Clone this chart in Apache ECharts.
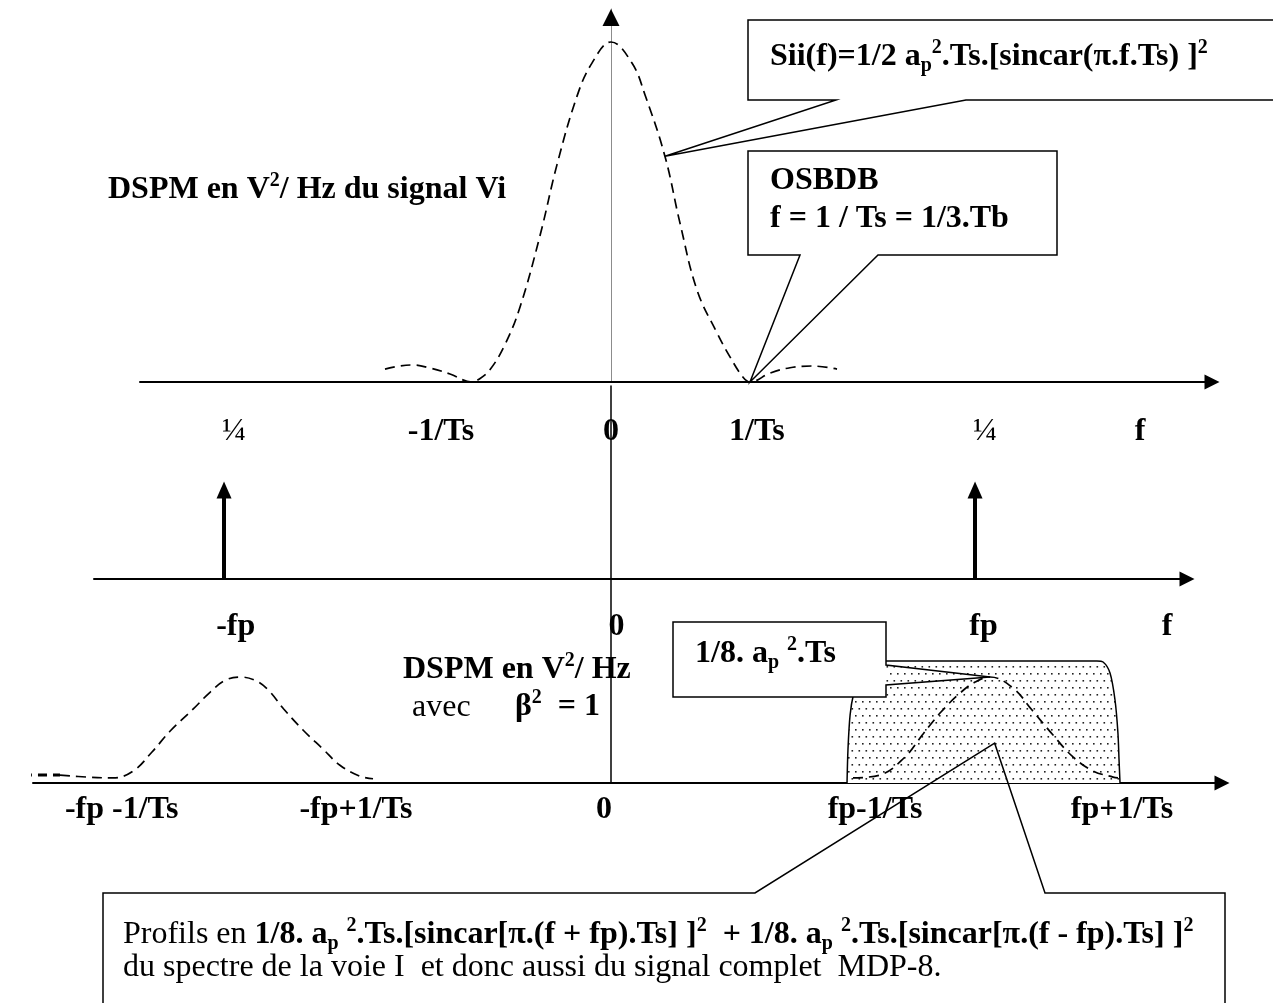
<!DOCTYPE html>
<html>
<head>
<meta charset="utf-8">
<script src="https://cdn.jsdelivr.net/npm/echarts@6/dist/echarts.min.js"></script>
<style>
  html, body { margin: 0; padding: 0; background: #fff; }
  #chart { width: 1273px; height: 1003px; }
</style>
</head>
<body>
<div id="chart"></div>
<script>
// Frequencies are in units of 1/Ts, spectral densities in units of ap^2.Ts.

// DSPM of Vi : 1/2 ap^2.Ts.[sincar(pi.f.Ts)]^2  (main lobe + first side lobes)
const viPsd = [
  [-1.626, 0.019], [-1.518, 0.0235], [-1.432, 0.025], [-1.302, 0.0206], [-1.158, 0.0118], [-1.0, 0],
  [-0.95, 0.004], [-0.871, 0.018], [-0.763, 0.055], [-0.655, 0.11], [-0.511, 0.215], [-0.388, 0.32],
  [-0.245, 0.42], [-0.137, 0.469], [0, 0.5],
  [0.151, 0.469], [0.245, 0.422], [0.388, 0.332], [0.496, 0.234], [0.619, 0.135], [0.763, 0.072],
  [0.856, 0.037], [0.95, 0.007], [1.0, 0],
  [1.144, 0.013], [1.288, 0.021], [1.446, 0.0235], [1.626, 0.019]
];

// Carrier lines at -fp and +fp, amplitude 1/4
const carrierLines = [[-2.784, 0.25], [2.619, 0.25]];

// Spectrum around -fp and +fp : 1/8 ap^2.Ts.[sincar(pi.(f -/+ fp).Ts)]^2
const lobeMinus = [
  [-4.338, 0.008], [-4.18, 0.0094], [-3.964, 0.0094], [-3.77, 0.007], [-3.583, 0.006], [-3.439, 0.014],
  [-3.302, 0.0366], [-3.173, 0.061], [-3.007, 0.087], [-2.885, 0.107], [-2.777, 0.121], [-2.669, 0.125],
  [-2.561, 0.121], [-2.468, 0.11], [-2.353, 0.087], [-2.216, 0.0625], [-2.072, 0.04], [-1.95, 0.021],
  [-1.806, 0.008], [-1.712, 0.005]
];
const lobePlus = [
  [1.741, 0.006], [1.935, 0.0094], [2.115, 0.0307], [2.245, 0.0578], [2.374, 0.0837], [2.511, 0.106],
  [2.619, 0.119], [2.727, 0.125], [2.892, 0.112], [3.029, 0.086], [3.18, 0.0566], [3.324, 0.0307],
  [3.468, 0.0142], [3.612, 0.007], [3.647, 0.006]
];

// Occupied band around +fp (dotted region)
const occupiedBand = [
  [1.698, 0], [1.705, 0.04], [1.72, 0.08], [1.745, 0.105], [1.79, 0.127], [1.86, 0.14], [1.95, 0.1439],
  [3.496, 0.1439], [3.54, 0.1427], [3.59, 0.1297], [3.626, 0.0979], [3.647, 0.059], [3.655, 0.027], [3.662, 0]
];

// Axis texts : [position on f, text]
const topTicks = [[-1.223, '-1/Ts'], [0, '0'], [1.05, '1/Ts'], [3.806, 'f']];
const midTicks = [[-2.70, '-fp'], [0.04, '0'], [2.68, 'fp'], [4.0, 'f']];
const lowTicks = [[-3.52, '-fp -1/Ts'], [-1.835, '-fp+1/Ts'], [-0.05, '0'], [1.90, 'fp-1/Ts'], [3.676, 'fp+1/Ts']];

// ---------------------------------------------------------------------------
const FONT = "'Liberation Serif', 'Times New Roman', serif";
const FS = 32;
const ORIGIN_X = 611;    // pixel column of f = 0
const PX_PER_UNIT = 139; // pixels per 1/Ts

function fAt(px) { return (px - ORIGIN_X) / PX_PER_UNIT; }

// panel layouts (pixels)
const P = {
  top: { left: 140, right: 1212, top: 9, bottom: 382, yMax: 0.5 * 373 / 340 },
  mid: { left: 94, right: 1187, top: 470, bottom: 579, yMax: 0.25 * 109 / 89 },
  low: { left: 33, right: 1222, top: 386, bottom: 783, yMax: 0.125 * 397 / 106 }
};

function gridOf(p) {
  return { left: p.left, width: p.right - p.left, top: p.top, height: p.bottom - p.top, containLabel: false };
}
function xAxisOf(idx, p) {
  return {
    type: 'value', gridIndex: idx, min: fAt(p.left), max: fAt(p.right),
    axisLine: { show: true, onZero: true, symbol: ['none', 'triangle'], symbolSize: [15, 15],
      lineStyle: { color: '#000', width: 2 } },
    axisTick: { show: false }, axisLabel: { show: false }, splitLine: { show: false }
  };
}

// dotted fill : staggered rows of small dots
const dots = document.createElement('canvas');
dots.width = 14; dots.height = 14;
(function () {
  const c = dots.getContext('2d');
  c.fillStyle = '#fff'; c.fillRect(0, 0, 14, 14);
  c.fillStyle = '#222';
  [[1, 1], [8, 1], [4.5, 8], [11.5, 8]].forEach(d => c.fillRect(d[0], d[1], 1.6, 1.6));
})();

const dashed = { color: '#000', width: 1.7, type: [10, 6] };

function tickSeries(xIdx, list, distance) {
  return {
    type: 'scatter', xAxisIndex: xIdx, yAxisIndex: xIdx, symbolSize: 0, silent: true,
    itemStyle: { opacity: 1, color: '#000' },
    data: list.map(t => ({ value: [t[0], 0], name: t[1] })),
    label: { show: true, position: 'bottom', distance: distance, formatter: '{b}',
      color: '#000', opacity: 1, fontFamily: FONT, fontSize: FS, fontWeight: 'bold' },
    z: 5
  };
}

const chart = echarts.init(document.getElementById('chart'), null, { renderer: 'canvas' });

chart.setOption({
  animation: false,
  backgroundColor: '#fff',
  grid: [gridOf(P.top), gridOf(P.mid), gridOf(P.low)],
  xAxis: [xAxisOf(0, P.top), xAxisOf(1, P.mid), xAxisOf(2, P.low)],
  yAxis: [
    { type: 'value', gridIndex: 0, min: 0, max: P.top.yMax,
      axisLine: { show: true, onZero: true, lineStyle: { color: '#8c8c8c', width: 1 } },
      axisTick: { show: false }, axisLabel: { show: false }, splitLine: { show: false } },
    { type: 'value', gridIndex: 1, min: 0, max: P.mid.yMax, show: false },
    { type: 'value', gridIndex: 2, min: 0, max: P.low.yMax,
      axisLine: { show: true, onZero: true, lineStyle: { color: '#000', width: 1.5 } },
      axisTick: { show: false }, axisLabel: { show: false }, splitLine: { show: false } }
  ],
  series: [
    {
      name: 'Sii', type: 'line', xAxisIndex: 0, yAxisIndex: 0, data: viPsd,
      smooth: 0.4, showSymbol: false, lineStyle: dashed, z: 3,
      markPoint: {
        silent: true, symbol: 'triangle', symbolSize: [17, 17], symbolOffset: [0, 8.5],
        itemStyle: { color: '#000' }, label: { show: false },
        data: [{ coord: [0, P.top.yMax] }]
      }
    },
    tickSeries(0, topTicks, 34),
    {
      name: 'porteuses', type: 'scatter', xAxisIndex: 1, yAxisIndex: 1, symbolSize: 0,
      itemStyle: { opacity: 1, color: '#000' },
      data: carrierLines,
      label: { show: true, position: 'top', distance: 42, offset: [10, 0],
        formatter: p => (p.value[1] === 0.25 ? '¼' : String(p.value[1])),
        color: '#000', fontFamily: FONT, fontSize: FS, fontWeight: 'normal' },
      markLine: {
        silent: true, animation: false, label: { show: false },
        symbol: ['none', 'triangle'], symbolSize: [15, 17],
        lineStyle: { color: '#000', width: 4, type: 'solid', opacity: 1 },
        data: carrierLines.map(c => [{ coord: [c[0], 0] }, { coord: [c[0], c[1]] }])
      }
    },
    tickSeries(1, midTicks, 32),
    {
      name: 'bande', type: 'line', xAxisIndex: 2, yAxisIndex: 2, data: occupiedBand,
      smooth: 0.3, showSymbol: false, lineStyle: { color: '#000', width: 1.5 },
      areaStyle: { color: { image: dots, repeat: 'repeat' }, opacity: 1 }, z: 2
    },
    {
      name: 'lobe -fp (queue)', type: 'line', xAxisIndex: 2, yAxisIndex: 2, clip: false,
      data: lobeMinus.filter(p => p[0] <= -3.964),
      smooth: 0.3, showSymbol: false, lineStyle: { color: '#000', width: 3, type: [9, 6] }, z: 3
    },
    {
      name: 'lobe -fp', type: 'line', xAxisIndex: 2, yAxisIndex: 2, clip: false,
      data: lobeMinus.filter(p => p[0] >= -3.964),
      smooth: 0.4, showSymbol: false, lineStyle: dashed, z: 3
    },
    {
      name: 'lobe +fp', type: 'line', xAxisIndex: 2, yAxisIndex: 2, data: lobePlus,
      smooth: 0.4, showSymbol: false, lineStyle: dashed, z: 3
    },
    tickSeries(2, lowTicks, 11)
  ]
});

// ---------------------------------------------------------------------------
// Callouts and titles
const rich = {
  b: { fontFamily: FONT, fontSize: FS, fontWeight: 'bold', color: '#000', lineHeight: 38 },
  r: { fontFamily: FONT, fontSize: FS, fontWeight: 'normal', color: '#000', lineHeight: 38 },
  sup: { fontFamily: FONT, fontSize: 20, fontWeight: 'bold', color: '#000', verticalAlign: 'top', lineHeight: 20 },
  sub: { fontFamily: FONT, fontSize: 20, fontWeight: 'bold', color: '#000', verticalAlign: 'bottom', lineHeight: 19 }
};

function txt(x, y, text) {
  return { type: 'text', x: x, y: y, z: 120, silent: true,
    style: { text: text, rich: rich, verticalAlign: 'middle', align: 'left' } };
}
// white box body + outline with its pointer
function callout(box, outline) {
  return [
    { type: 'rect', z: 110, silent: true,
      shape: { x: box[0], y: box[1], width: box[2] - box[0], height: box[3] - box[1] },
      style: { fill: '#fff', stroke: null } },
    { type: 'polygon', z: 111, silent: true, shape: { points: outline },
      style: { fill: null, stroke: '#000', lineWidth: 1.5 } }
  ];
}

const tipSii = chart.convertToPixel({ gridIndex: 0 }, viPsd[17]);
const tipNull = chart.convertToPixel({ gridIndex: 0 }, viPsd[23]);
const tipPeak = chart.convertToPixel({ gridIndex: 2 }, lobePlus[7]);
const tipBand = chart.convertToPixel({ gridIndex: 2 }, [2.76, 0.047]);

chart.setOption({
  graphic: [].concat(
    callout([748, 20, 1290, 100],
      [[748, 20], [1290, 20], [1290, 100], [966, 100], tipSii, [836, 100], [748, 100]]),
    [txt(770, 57, '{b|Sii(f)=1/2 a}{sub|p}{sup|2}{b|.Ts.[sincar(π.f.Ts) ]}{sup|2}')],

    callout([748, 151, 1057, 255],
      [[748, 151], [1057, 151], [1057, 255], [878, 255], tipNull, [800, 255], [748, 255]]),
    [txt(770, 181, '{b|OSBDB}'), txt(770, 219, '{b|f = 1 / Ts = 1/3.Tb}')],

    [txt(108, 190, '{b|DSPM en V}{sup|2}{b|/ Hz du signal Vi}')],

    [txt(403, 670, '{b|DSPM en V}{sup|2}{b|/ Hz}'),
     txt(412, 708, '{r|avec}'),
     txt(515, 707, '{b|β}{sup|2}{b|  = 1}')],

    callout([673, 622, 886, 697],
      [[673, 622], [886, 622], [886, 665], tipPeak, [886, 685], [886, 697], [673, 697]]),
    [txt(695, 654, '{b|1/8. a}{sub|p}{b| }{sup|2}{b|.Ts}')],

    callout([103, 893, 1225, 1012],
      [[103, 893], [755, 893], tipBand, [1045, 893], [1225, 893], [1225, 1012], [103, 1012]]),
    [txt(123, 935, '{r|Profils en }{b|1/8. a}{sub|p}{b| }{sup|2}{b|.Ts.[sincar[π.(f + fp).Ts] ]}{sup|2}{b|  + 1/8. a}{sub|p}{b| }{sup|2}{b|.Ts.[sincar[π.(f - fp).Ts] ]}{sup|2}'),
     txt(123, 968, '{r|du spectre de la voie I  et donc aussi du signal complet  MDP-8.}')]
  )
});
</script>
</body>
</html>
